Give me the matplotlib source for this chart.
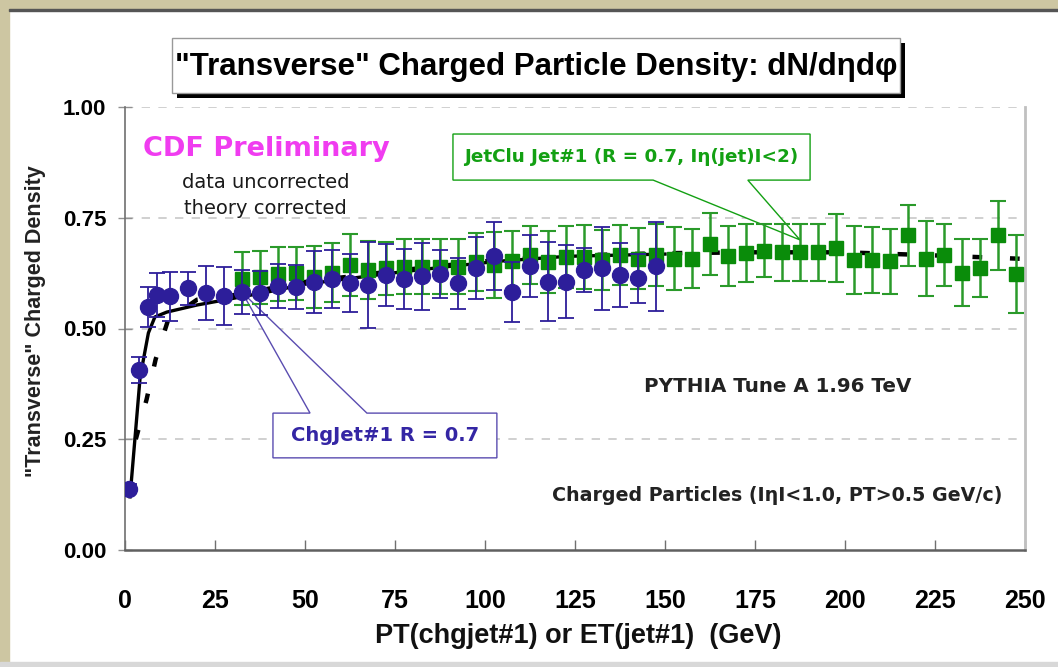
import matplotlib
matplotlib.use("Agg")
import matplotlib.pyplot as plt
from matplotlib.patches import Rectangle, Polygon

# ---------------- data ----------------
blue_x = [1.2, 3.9, 6.4, 8.8, 12.5, 17.5, 22.5, 27.5, 32.5, 37.5, 42.5, 47.5, 52.5, 57.5,
          62.5, 67.5, 72.5, 77.5, 82.5, 87.5, 92.5, 97.5, 102.5, 107.5, 112.5, 117.5,
          122.5, 127.5, 132.5, 137.5, 142.5, 147.5]
blue_y = [0.138, 0.406, 0.549, 0.576, 0.573, 0.591, 0.580, 0.573, 0.582, 0.580, 0.596,
          0.594, 0.605, 0.612, 0.603, 0.598, 0.621, 0.612, 0.618, 0.623, 0.602, 0.636,
          0.664, 0.583, 0.640, 0.606, 0.606, 0.632, 0.636, 0.621, 0.613, 0.640]
blue_err = [0.010, 0.030, 0.045, 0.050, 0.055, 0.037, 0.060, 0.065, 0.050, 0.050, 0.050,
            0.050, 0.070, 0.065, 0.065, 0.097, 0.070, 0.067, 0.076, 0.055, 0.058, 0.070,
            0.077, 0.068, 0.070, 0.090, 0.082, 0.050, 0.094, 0.072, 0.055, 0.100]

green_x = [32.5, 37.5, 42.5, 47.5, 52.5, 57.5, 62.5, 67.5, 72.5, 77.5, 82.5, 87.5, 92.5,
           97.5, 102.5, 107.5, 112.5, 117.5, 122.5, 127.5, 132.5, 137.5, 142.5, 147.5,
           152.5, 157.5, 162.5, 167.5, 172.5, 177.5, 182.5, 187.5, 192.5, 197.5, 202.5,
           207.5, 212.5, 217.5, 222.5, 227.5, 232.5, 237.5, 242.5, 247.5]
green_y = [0.612, 0.616, 0.623, 0.625, 0.616, 0.626, 0.643, 0.632, 0.636, 0.639, 0.639,
           0.639, 0.639, 0.650, 0.643, 0.652, 0.666, 0.650, 0.662, 0.662, 0.654, 0.666,
           0.658, 0.666, 0.658, 0.658, 0.690, 0.664, 0.670, 0.676, 0.672, 0.672, 0.672,
           0.682, 0.655, 0.655, 0.652, 0.710, 0.658, 0.666, 0.626, 0.636, 0.710, 0.622]
green_err = [0.060, 0.060, 0.060, 0.060, 0.070, 0.066, 0.070, 0.065, 0.060, 0.062, 0.062,
             0.062, 0.062, 0.065, 0.075, 0.067, 0.065, 0.069, 0.070, 0.072, 0.068, 0.067,
             0.069, 0.070, 0.070, 0.066, 0.070, 0.067, 0.065, 0.060, 0.065, 0.065, 0.064,
             0.076, 0.076, 0.075, 0.073, 0.068, 0.085, 0.070, 0.075, 0.066, 0.078, 0.088]

# PYTHIA Tune A theory curves
theory_chg_x = [1.4, 4.2, 6.5, 8.3, 11.6, 20, 30, 40, 50, 62.5, 76, 90, 104, 123, 150]
theory_chg_y = [0.12, 0.39, 0.49, 0.526, 0.537, 0.553, 0.568, 0.583, 0.600, 0.613, 0.627,
                0.640, 0.652, 0.663, 0.668]
theory_jet_x = [3, 6, 8.5, 12, 20, 30, 50, 75, 100, 125, 150, 175, 200, 225, 250]
theory_jet_y = [0.25, 0.34, 0.43, 0.52, 0.565, 0.575, 0.605, 0.63, 0.652, 0.665, 0.670,
                0.672, 0.672, 0.665, 0.657]

xticks = [0, 25, 50, 75, 100, 125, 150, 175, 200, 225, 250]
yticks = [0.00, 0.25, 0.50, 0.75, 1.00]
ytick_labels = ["0.00", "0.25", "0.50", "0.75", "1.00"]

# ---------------- style ----------------
plt.rcParams['font.family'] = ['Liberation Sans', 'DejaVu Sans']
plt.rcParams['lines.scale_dashes'] = False
WIDE = ['DejaVu Sans']

BLUE = '#2d1e9a'
GREEN = '#0a8c0a'
GREEN_TXT = '#13a013'
MAGENTA = '#f03cf0'

W, H = 1058, 667
fig = plt.figure(figsize=(W / 100, H / 100), dpi=100)
fig.patch.set_facecolor('white')

def fx(x):
    return x / W

def fy(y):
    return 1 - y / H

# frame decoration (beige border)
beige = '#cdc6a2'
fig.add_artist(Rectangle((0, 0), fx(9), 1, transform=fig.transFigure, color=beige, zorder=0))
fig.add_artist(Rectangle((0, fy(9)), 1, 9 / H, transform=fig.transFigure, color=beige, zorder=0))
fig.add_artist(Rectangle((fx(9), fy(11)), 1, 2 / H, transform=fig.transFigure, color='#555555', zorder=0))
fig.add_artist(Rectangle((0, 0), 1, 5 / H, transform=fig.transFigure, color='#d8d8d8', zorder=0))

ax = fig.add_axes([fx(125), fy(550), (1025 - 125) / W, (550 - 107) / H])
ax.set_xlim(0, 250)
ax.set_ylim(0, 1.0)

# grid
for yv in yticks[1:]:
    ax.axhline(yv, color='#c8c8c8', lw=1.2, ls=(0, (6, 6)), zorder=0.5)

ax.spines['top'].set_visible(False)
ax.spines['right'].set_color('#c0c0c0')
ax.spines['right'].set_linewidth(2)
ax.spines['left'].set_color('#707070')
ax.spines['left'].set_linewidth(1.2)
ax.spines['bottom'].set_color('#606060')
ax.spines['bottom'].set_linewidth(1.8)

ax.set_xticks(xticks)
ax.set_xticklabels([str(v) for v in xticks], fontsize=18, fontweight='bold')
ax.set_yticks(yticks)
ax.set_yticklabels(ytick_labels, fontsize=16, fontweight='bold')
ax.tick_params(axis='x', direction='in', length=7, width=1, color='#707070', pad=28)
ax.tick_params(axis='y', direction='inout', length=10, width=1, color='#909090', pad=8.5)

# theory curves
ax.plot(theory_jet_x, theory_jet_y, color='black', lw=3.2, dashes=(7, 20), zorder=2,
        solid_capstyle='butt')
ax.plot(theory_chg_x, theory_chg_y, color='black', lw=2.4, zorder=2)

# data
ax.errorbar(green_x, green_y, yerr=green_err, fmt='s', color=GREEN, ecolor='#2a9a2a',
            elinewidth=1.8, capsize=5.5, capthick=1.5, markersize=10, zorder=4)
ax.errorbar(blue_x, blue_y, yerr=blue_err, fmt='o', color=BLUE, ecolor=BLUE,
            elinewidth=1.3, capsize=5.5, capthick=1.3, markersize=11.5, zorder=5)

# call-out: green (JetClu)
gx0, gx1, gy0, gy1 = 91.1, 190.3, 0.835, 0.939
g_tip = (green_x[31], green_y[31] + 0.028)
poly_g = Polygon([(gx0, gy0), (146.7, gy0), g_tip, (173.0, gy0), (gx1, gy0), (gx1, gy1), (gx0, gy1)],
                 closed=True, facecolor='white', edgecolor=GREEN_TXT, lw=1.0, zorder=3)
ax.add_patch(poly_g)
ax.text((gx0 + gx1) / 2, (gy0 + gy1) / 2, "JetClu Jet#1 (R = 0.7, Iη(jet)I<2)", color=GREEN_TXT,
        fontsize=13.2, fontweight='bold', family=WIDE, ha='center', va='center', zorder=6)

# call-out: blue (ChgJet)
bx0, bx1, by0, by1 = 41.1, 103.3, 0.208, 0.309
b_tip = (blue_x[8], blue_y[8])
poly_b = Polygon([(bx0, by0), (bx1, by0), (bx1, by1), (67.2, by1), b_tip, (51.4, by1), (bx0, by1)],
                 closed=True, facecolor='white', edgecolor='#5a4cb0', lw=1.0, zorder=3)
ax.add_patch(poly_b)
ax.text((bx0 + bx1) / 2, (by0 + by1) / 2, "ChgJet#1 R = 0.7", color='#3426a4',
        fontsize=14, fontweight='bold', family=WIDE, ha='center', va='center', zorder=6)

# inner texts
ax.text(0.157, 0.905, "CDF Preliminary", transform=ax.transAxes, color=MAGENTA,
        fontsize=19.5, fontweight='bold', family=WIDE, ha='center', va='center')
ax.text(0.156, 0.83, "data uncorrected", transform=ax.transAxes, color='#1a1a1a',
        fontsize=14, family=WIDE, ha='center', va='center')
ax.text(0.156, 0.772, "theory corrected", transform=ax.transAxes, color='#1a1a1a',
        fontsize=14, family=WIDE, ha='center', va='center')
ax.text(0.725, 0.37, "PYTHIA Tune A 1.96 TeV", transform=ax.transAxes, color='#222222',
        fontsize=14.3, fontweight='bold', family=WIDE, ha='center', va='center')
ax.text(0.725, 0.122, "Charged Particles (IηI<1.0, PT>0.5 GeV/c)", transform=ax.transAxes,
        color='#222222', fontsize=13.7, fontweight='bold', family=WIDE, ha='center', va='center')

# axis labels
fig.text(fx(578), fy(636), "PT(chgjet#1) or ET(jet#1)  (GeV)", ha='center', va='center',
         fontsize=19.5, fontweight='bold', color='#111111')
fig.text(fx(36), fy(321), "\"Transverse\" Charged Density", ha='center', va='center',
         rotation=90, fontsize=15.5, fontweight='bold', color='#222222')

# title box with shadow
tx0, tx1, ty0, ty1 = 172, 900, 38, 93
fig.add_artist(Rectangle((fx(tx0 + 5), fy(ty1 + 5)), (tx1 - tx0) / W, (ty1 - ty0) / H,
                         transform=fig.transFigure, facecolor='black', edgecolor='none', zorder=2))
fig.add_artist(Rectangle((fx(tx0), fy(ty1)), (tx1 - tx0) / W, (ty1 - ty0) / H,
                         transform=fig.transFigure, facecolor='white', edgecolor='#999999',
                         lw=1, zorder=3))
fig.text(fx((tx0 + tx1) / 2), fy(67), "\"Transverse\" Charged Particle Density: dN/dηdφ",
         ha='center', va='center', fontsize=22.5, fontweight='bold',
         color='black', zorder=4)

fig.savefig("out.png", dpi=100)
